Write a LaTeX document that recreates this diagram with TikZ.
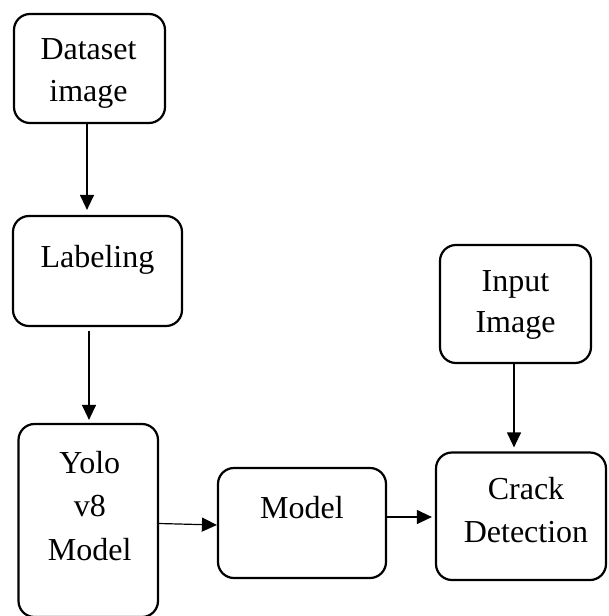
\documentclass[tikz,border=0pt]{standalone}
\usepackage{fontspec}
\setmainfont{Liberation Serif}
\usetikzlibrary{arrows.meta}
\begin{document}
\begin{tikzpicture}[x=1pt,y=-1pt,
  box/.style={draw, line width=2.2pt, rounded corners=16pt, inner sep=0pt},
  txt/.style={anchor=north, inner sep=0pt, align=center, font=\fontsize{32}{42}\selectfont},
  arr/.style={line width=1.2pt, -{Triangle[length=15pt,width=14pt]}}]
\useasboundingbox (0,0) rectangle (608,616);
% boxes
\node[box, minimum width=151pt, minimum height=109pt] (ds) at (89.5,68.5) {};
\node[box, minimum width=169pt, minimum height=110pt] (lab) at (97.5,271) {};
\node[box, minimum width=139.5pt, minimum height=193pt] (yolo) at (88.25,520.5) {};
\node[box, minimum width=168pt, minimum height=110pt] (model) at (302,523) {};
\node[box, minimum width=151pt, minimum height=118pt] (inp) at (515.5,304) {};
\node[box, minimum width=170pt, minimum height=127.5pt] (crack) at (521,516.25) {};
% texts
\node[txt] (dst) at ([xshift=-1pt,yshift=-25pt]ds.north) {Dataset\\image};
\node[txt] (labt) at ([yshift=-30pt]lab.north) {Labeling};
\node[txt, font=\fontsize{32}{43.5}\selectfont] (yolot) at ([xshift=1.5pt,yshift=-28pt]yolo.north) {Yolo\\v8\\Model};
\node[txt] (modelt) at ([yshift=-29pt]model.north) {Model};
\node[txt, font=\fontsize{32}{40.5}\selectfont] (inpt) at ([yshift=-26.5pt]inp.north) {Input\\Image};
\node[txt, font=\fontsize{32}{43}\selectfont] (crackt) at ([xshift=5pt,yshift=-25.5pt]crack.north) {Crack\\Detection};
% connectors
\draw[arr, shorten >=5pt] ([xshift=-2.5pt]ds.south) -- ([xshift=-10.5pt]lab.north);
\draw[arr, shorten <=4pt, shorten >=3pt] ([xshift=-8.5pt]lab.south) -- ([xshift=0.75pt]yolo.north);
\draw[arr] ([yshift=-3pt]yolo.east) -- ([yshift=-2pt]model.west);
\draw[arr, shorten >=3pt] ([yshift=6pt]model.east) -- ([yshift=-0.75pt]crack.west);
\draw[arr, shorten >=4pt] ([xshift=-1.5pt]inp.south) -- ([xshift=-7pt]crack.north);
\end{tikzpicture}
\end{document}
